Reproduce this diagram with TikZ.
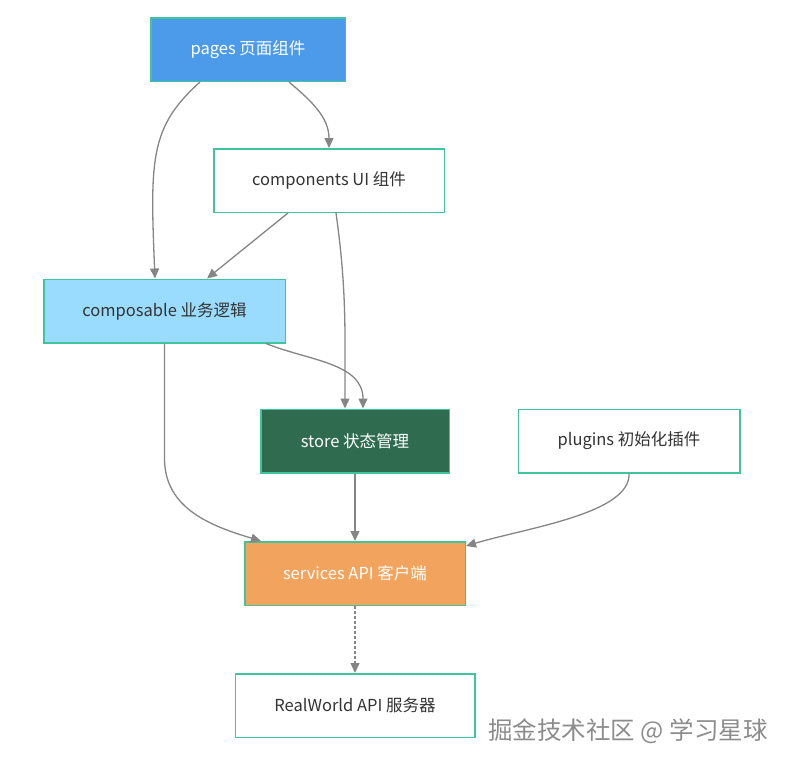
\documentclass[tikz,border=0pt]{standalone}
\usepackage{fontspec}
\setmainfont{Noto Sans CJK SC}
\usetikzlibrary{arrows.meta}
\usetikzlibrary{calc,positioning}

\definecolor{boxline}{HTML}{3EC59B}
\definecolor{pagesblue}{HTML}{4C9BEB}
\definecolor{composeblue}{HTML}{9ADCFD}
\definecolor{storegreen}{HTML}{2E6B4F}
\definecolor{serviceorange}{HTML}{F2A35E}
\definecolor{linkgray}{HTML}{858585}
\definecolor{textdark}{HTML}{333333}
\definecolor{markgray}{HTML}{8C8C8C}

\begin{document}
\begin{tikzpicture}[x=1pt, y=1pt,
    every node/.style={draw=boxline, line width=1.5pt, minimum height=63.5pt, inner sep=0pt, text=textdark, font=\fontsize{16.5}{19}\selectfont},
    link/.style={draw=linkgray, line width=1.3pt, -{Triangle[length=10pt, width=9pt]}}]
    \useasboundingbox (0,0) rectangle (792,-766);

    \node [fill=pagesblue, text=white, minimum width=194.5pt] (pages) at (248,-49.5) {pages 页面组件};
    \node [fill=white, minimum width=230.5pt] (components) at (329,-180.5) {components UI 组件};
    \node [fill=composeblue, minimum width=241.5pt] (composable) at (164.5,-311) {composable 业务逻辑};
    \node [fill=storegreen, text=white, minimum width=188.5pt] (store) at (355,-441) {store 状态管理};
    \node [fill=white, minimum width=221.5pt, right=67.5pt of store] (plugins) {plugins 初始化插件};
    \node [fill=serviceorange, text=white, minimum width=220.5pt, below=67.5pt of store] (services) {services API 客户端};
    \node [fill=white, minimum width=239.5pt, below=67pt of services] (realworld) {RealWorld API 服务器};
    \node [draw=none, text=markgray, font=\fontsize{24.5}{28}\selectfont] (mark) at (628,-731) {掘金技术社区 @ 学习星球};

    \draw [link] ([xshift=41pt]pages.south) to[out=-40, in=90] (components.north);
    \draw [link] ([xshift=-48pt]pages.south) .. controls +(-50,-45) and +(-5,120) .. ([xshift=-9.5pt]composable.north);
    \draw [link] ([xshift=-41pt]components.south) -- ([xshift=42.5pt]composable.north);
    \draw [link] ([xshift=7pt]components.south) to[out=-82, in=90] ([xshift=-10pt]store.north);
    \draw [link] ([xshift=101.5pt]composable.south) to[out=-22, in=90] ([xshift=8pt]store.north);
    \draw [link] (composable.south) -- ([yshift=-115pt]composable.south) .. controls +(0,-50) and +(-50,15) .. ([xshift=17pt]services.north west);
    \draw [link] (store.south) -- (services.north);
    \draw [link] (plugins.south) .. controls +(2,-40) and +(60,18) .. ([yshift=-5pt]services.north east);
    \draw [link, dash pattern=on 2.5pt off 2.5pt] (services.south) -- (realworld.north);
\end{tikzpicture}
\end{document}
